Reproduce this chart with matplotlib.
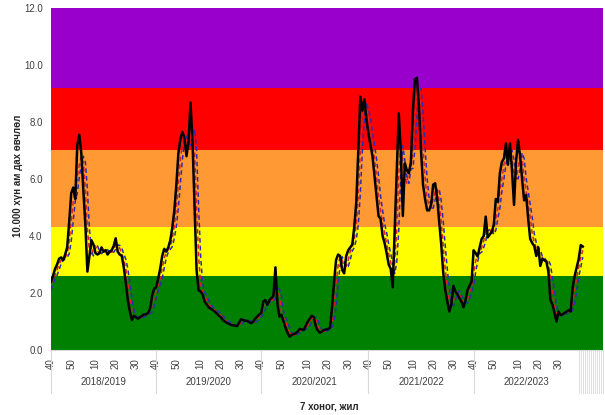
import numpy as np
import matplotlib
matplotlib.use("Agg")
import matplotlib.pyplot as plt
import matplotlib.transforms as mtransforms

plt.rcParams['font.family'] = ['Liberation Sans', 'DejaVu Sans']

# Улирлууд (7 хоног 40-өөс эхэлнэ)
season_labels = ["2018/2019", "2019/2020", "2020/2021", "2021/2022", "2022/2023"]
season_weeks = [52, 52, 53, 52, 52]     # тухайн жилийн 7 хоногийн тоо
year_last_week = [52, 52, 53, 52, 52]
week_ticks = [40, 50, 10, 20, 30]

# Эрсдэлийн түвшний хязгаар
band_edges = [0.0, 2.6, 4.3, 7.0, 9.2, 12.0]
band_colors = ["#008000", "#FFFF00", "#FF9933", "#FF0000", "#9900CC"]

# Өвчлөл (10 000 хүн амд) - хар шугам
actual = [
    2.4, 2.6, 2.85, 3.0, 3.2, 3.25, 3.15, 3.35, 3.6, 4.5, 5.5, 5.7, 5.3, 7.2, 7.55, 6.9, 5.6, 4.4, 2.75, 3.3,
    3.85, 3.7, 3.4, 3.35, 3.4, 3.6, 3.45, 3.5, 3.35, 3.45, 3.5, 3.65, 3.92, 3.45, 3.35, 3.3, 2.9, 2.35, 1.75, 1.35,
    1.05, 1.2, 1.15, 1.1, 1.15, 1.2, 1.25, 1.25, 1.3, 1.45, 1.9, 2.15,
    2.2, 2.5, 2.85, 3.3, 3.55, 3.45, 3.6, 3.85, 4.3, 4.9, 5.8, 6.9, 7.4, 7.65, 7.45, 6.8, 7.3, 8.68, 7.3, 5.0,
    2.8, 2.1, 2.05, 1.95, 1.7, 1.6, 1.5, 1.45, 1.4, 1.35, 1.28, 1.2, 1.15, 1.05, 1.0, 0.95, 0.92, 0.88, 0.87, 0.85,
    0.84, 0.95, 1.08, 1.05, 1.03, 1.02, 0.98, 0.94, 1.0, 1.1, 1.17, 1.25,
    1.3, 1.7, 1.75, 1.58, 1.75, 1.82, 1.9, 2.9, 1.6, 1.17, 1.23, 1.0, 0.78, 0.6, 0.47, 0.52, 0.56, 0.58, 0.65, 0.74,
    0.72, 0.7, 0.85, 1.0, 1.1, 1.2, 1.15, 0.82, 0.68, 0.61, 0.65, 0.7, 0.72, 0.74, 0.78, 1.5, 2.4, 3.16, 3.35, 3.3,
    2.81, 2.69, 3.3, 3.5, 3.6, 3.7, 4.33, 5.2, 7.0, 8.89, 8.4, 8.8, 8.1,
    7.6, 7.2, 6.8, 6.1, 5.4, 4.7, 4.6, 4.0, 3.75, 3.4, 3.0, 2.85, 2.2, 4.2, 6.2, 8.3, 7.0, 4.7, 6.55, 6.3,
    6.2, 6.6, 8.4, 9.5, 9.55, 8.5, 7.0, 5.8, 5.3, 4.9, 4.9, 5.1, 5.8, 5.85, 5.3, 4.5, 3.7, 2.7, 2.1, 1.7,
    1.35, 1.6, 2.25, 2.05, 1.95, 1.82, 1.7, 1.5, 1.75, 2.1, 2.25, 2.4,
    3.5, 3.4, 3.28, 3.6, 3.9, 4.0, 4.68, 3.95, 4.05, 4.15, 4.4, 5.3, 5.2, 6.2, 6.6, 6.72, 7.25, 6.5, 7.25, 6.3,
    5.09, 6.6, 7.37, 6.8, 6.0, 5.25, 5.44, 4.6, 3.9, 3.75, 3.65, 3.3, 3.6, 2.95, 3.2, 3.15, 3.1, 2.75, 1.75, 1.6,
    1.3, 1.0, 1.35, 1.23, 1.25, 1.3, 1.35, 1.4, 1.35, 2.2, 2.6, 2.9, 3.2, 3.68, 3.63,
]

# Улаан тасархай шугам
red_line = [
    2.3, 2.5, 2.62, 2.82, 3.02, 3.15, 3.2, 3.25, 3.37, 3.82, 4.53, 5.23, 5.5, 6.07, 6.5, 6.8, 6.6, 5.63, 4.25, 3.48,
    3.3, 3.62, 3.65, 3.48, 3.38, 3.45, 3.48, 3.52, 3.43, 3.43, 3.43, 3.53, 3.69, 3.67, 3.57, 3.37, 3.18, 2.85, 2.33, 1.82,
    1.38, 1.2, 1.13, 1.15, 1.13, 1.15, 1.2, 1.23, 1.27, 1.33, 1.55, 1.83,
    2.08, 2.28, 2.52, 2.88, 3.23, 3.43, 3.53, 3.63, 3.92, 4.35, 5.0, 5.87, 6.7, 7.32, 7.5, 7.3, 7.18, 7.59, 7.76, 7.0,
    5.03, 3.3, 2.32, 2.03, 1.9, 1.75, 1.6, 1.52, 1.45, 1.4, 1.34, 1.28, 1.21, 1.13, 1.07, 1.0, 0.96, 0.92, 0.89, 0.87,
    0.85, 0.88, 0.96, 1.03, 1.05, 1.03, 1.01, 0.98, 0.97, 1.01, 1.09, 1.17,
    1.24, 1.42, 1.58, 1.68, 1.69, 1.72, 1.82, 2.21, 2.13, 1.89, 1.33, 1.13, 1.0, 0.79, 0.62, 0.53, 0.52, 0.55, 0.6, 0.66,
    0.7, 0.72, 0.76, 0.85, 0.98, 1.1, 1.15, 1.06, 0.88, 0.7, 0.65, 0.65, 0.69, 0.72, 0.75, 1.01, 1.56, 2.35, 2.97, 3.27,
    3.15, 2.93, 2.93, 3.16, 3.47, 3.6, 3.88, 4.41, 5.51, 7.03, 8.1, 8.7, 8.43,
    8.17, 7.63, 7.2, 6.7, 6.1, 5.4, 4.9, 4.43, 4.12, 3.72, 3.38, 3.08, 2.68, 3.08, 4.2, 6.23, 7.17, 6.67, 6.08, 5.85,
    6.35, 6.37, 7.07, 8.17, 9.15, 9.18, 8.35, 7.1, 6.03, 5.33, 5.03, 4.97, 5.27, 5.58, 5.65, 5.22, 4.5, 3.63, 2.83, 2.17,
    1.72, 1.55, 1.73, 1.97, 2.08, 1.94, 1.82, 1.67, 1.65, 1.78, 2.03, 2.25,
    2.72, 3.1, 3.39, 3.43, 3.59, 3.83, 4.19, 4.21, 4.23, 4.05, 4.2, 4.62, 4.97, 5.57, 6.0, 6.51, 6.86, 6.82, 7.0, 6.68,
    6.21, 6.0, 6.35, 6.92, 6.72, 6.02, 5.56, 5.1, 4.65, 4.08, 3.77, 3.57, 3.52, 3.28, 3.25, 3.1, 3.15, 3.0, 2.53, 2.03,
    1.55, 1.3, 1.22, 1.19, 1.28, 1.26, 1.3, 1.35, 1.37, 1.65, 2.05, 2.57, 2.9, 3.26, 3.5,
]

# Цэнхэр тасархай шугам
blue_line = [
    2.1, 2.3, 2.5, 2.62, 2.82, 3.02, 3.15, 3.2, 3.25, 3.37, 3.82, 4.53, 5.23, 5.5, 6.07, 6.5, 6.8, 6.6, 5.63, 4.25,
    3.48, 3.3, 3.62, 3.65, 3.48, 3.38, 3.45, 3.48, 3.52, 3.43, 3.43, 3.43, 3.53, 3.69, 3.67, 3.57, 3.37, 3.18, 2.85, 2.33,
    1.82, 1.38, 1.2, 1.13, 1.15, 1.13, 1.15, 1.2, 1.23, 1.27, 1.33, 1.55,
    1.83, 2.08, 2.28, 2.52, 2.88, 3.23, 3.43, 3.53, 3.63, 3.92, 4.35, 5.0, 5.87, 6.7, 7.32, 7.5, 7.3, 7.18, 7.59, 7.76,
    7.0, 5.03, 3.3, 2.32, 2.03, 1.9, 1.75, 1.6, 1.52, 1.45, 1.4, 1.34, 1.28, 1.21, 1.13, 1.07, 1.0, 0.96, 0.92, 0.89,
    0.87, 0.85, 0.88, 0.96, 1.03, 1.05, 1.03, 1.01, 0.98, 0.97, 1.01, 1.09,
    1.17, 1.24, 1.42, 1.58, 1.68, 1.69, 1.72, 1.82, 2.21, 2.13, 1.89, 1.33, 1.13, 1.0, 0.79, 0.62, 0.53, 0.52, 0.55, 0.6,
    0.66, 0.7, 0.72, 0.76, 0.85, 0.98, 1.1, 1.15, 1.06, 0.88, 0.7, 0.65, 0.65, 0.69, 0.72, 0.75, 1.01, 1.56, 2.35, 2.97,
    3.27, 3.15, 2.93, 2.93, 3.16, 3.47, 3.6, 3.88, 4.41, 5.51, 7.03, 8.1, 8.7,
    8.43, 8.17, 7.63, 7.2, 6.7, 6.1, 5.4, 4.9, 4.43, 4.12, 3.72, 3.38, 3.08, 2.68, 3.08, 4.2, 6.23, 7.17, 6.67, 6.08,
    5.85, 6.35, 6.37, 7.07, 8.17, 9.15, 9.18, 8.35, 7.1, 6.03, 5.33, 5.03, 4.97, 5.27, 5.58, 5.65, 5.22, 4.5, 3.63, 2.83,
    2.17, 1.72, 1.55, 1.73, 1.97, 2.08, 1.94, 1.82, 1.67, 1.65, 1.78, 2.03,
    2.25, 2.72, 3.1, 3.39, 3.43, 3.59, 3.83, 4.19, 4.21, 4.23, 4.05, 4.2, 4.62, 4.97, 5.57, 6.0, 6.51, 6.86, 6.82, 7.0,
    6.68, 6.21, 6.0, 6.35, 6.92, 6.72, 6.02, 5.56, 5.1, 4.65, 4.08, 3.77, 3.57, 3.52, 3.28, 3.25, 3.1, 3.15, 3.0, 2.53,
    2.03, 1.55, 1.3, 1.22, 1.19, 1.28, 1.26, 1.3, 1.35, 1.37, 1.65, 2.05, 2.57, 2.9, 3.26,
]

n_categories = 274   # ангилалын тэнхлэгийн нийт байрлал

# 7 хоногийн дугаар ба улирлын эхлэл
week_no = []
season_start = []
for nweeks, last in zip(season_weeks, year_last_week):
    season_start.append(len(week_no))
    week_no += list(range(40, last + 1)) + list(range(1, 40))
labeled_end = len(week_no)

tick_pos = [i for i, w in enumerate(week_no) if w in week_ticks and i < labeled_end - 8]
tick_lab = [str(week_no[i]) for i in tick_pos]

fig = plt.figure(figsize=(6.05, 4.15), dpi=100)
ax = fig.add_axes([51 / 605, 65 / 415, 552 / 605, 342 / 415])

for lo, hi, c in zip(band_edges[:-1], band_edges[1:], band_colors):
    ax.axhspan(lo, hi, color=c, lw=0, zorder=0)

ax.plot(np.arange(len(red_line)), red_line, color="#E0201A", lw=1.1, ls=(0, (3, 2)), zorder=2)
ax.plot(np.arange(len(blue_line)), blue_line, color="#2B2BB0", lw=1.1, ls=(0, (3, 2)), zorder=3)
ax.plot(np.arange(len(actual)), actual, color="black", lw=1.8, zorder=4)

ax.set_xlim(0, n_categories - 1)
ax.set_ylim(0, 12)

ax.set_yticks(np.arange(0, 12.1, 2))
ax.set_yticklabels([f"{v:.1f}" for v in np.arange(0, 12.1, 2)])
ax.tick_params(axis="y", length=0, pad=6, labelsize=7, labelcolor="#404040")

ax.set_xticks(tick_pos)
ax.set_xticklabels(tick_lab, rotation=90)
ax.tick_params(axis="x", length=0, pad=6, labelsize=7, labelcolor="#404040")

for s in ["top", "right", "left"]:
    ax.spines[s].set_visible(False)
ax.spines["bottom"].set_color("#d9d9d9")

trans = mtransforms.blended_transform_factory(ax.transData, ax.transAxes)
for k, (st, n) in enumerate(zip(season_start, season_weeks)):
    ax.plot([st, st], [0, -0.126], transform=trans, clip_on=False, color="#d9d9d9", lw=0.8)
    ax.text(st + n / 2, -0.093, season_labels[k], transform=trans, ha="center", va="center",
            fontsize=7, color="#404040")
# хоосон ангилалууд
for i in range(labeled_end, n_categories):
    ax.plot([i, i], [0, -0.126], transform=trans, clip_on=False, color="#d9d9d9", lw=0.6)

fig.text(18 / 605, 1 - 176 / 415, "10.000 хүн ам дах өвчлөл", rotation=90, ha="center", va="center",
         fontsize=7, fontweight="bold", color="#262626")
fig.text(329 / 605, 1 - 406 / 415, "7 хоног, жил", ha="center", va="center",
         fontsize=7, fontweight="bold", color="#262626")

fig.savefig("out.png", dpi=100)
